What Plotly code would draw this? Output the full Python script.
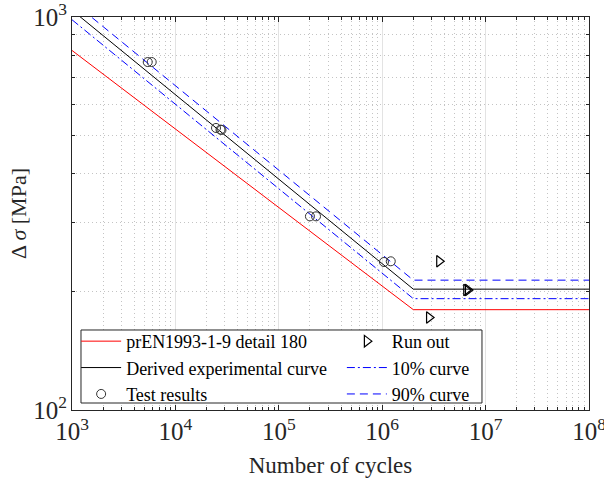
import plotly.graph_objects as go

# S-N curve knots (cycles, stress range MPa)
curve_n = [1e3, 2e6, 1e8]
en_detail180 = [822, 180, 180]
derived_curve = [1041, 203, 203]
curve_10 = [984, 192, 192]
curve_90 = [1097, 214, 214]

# Test results
test_n = [5.4e3, 5.9e3, 2.47e4, 2.73e4, 2.79e4, 2.0e5, 2.29e5, 1.04e6, 1.21e6]
test_s = [768, 768, 522, 517, 516, 311, 311, 238, 239]

# Run outs
run_n = [3.56e6, 6.5e6, 6.75e6, 2.84e6]
run_s = [239, 202, 202, 172]

FONT = "Liberation Serif"
LEG_FONT = dict(family=FONT, size=18, color="#000000")

fig = go.Figure()
fig.add_trace(go.Scatter(x=curve_n, y=en_detail180, mode="lines",
                         line=dict(color="#FF0000", width=1),
                         name="prEN1993-1-9 detail 180", legend="legend", legendrank=1))
fig.add_trace(go.Scatter(x=curve_n, y=derived_curve, mode="lines",
                         line=dict(color="#000000", width=1),
                         name="Derived experimental curve", legend="legend", legendrank=2))
fig.add_trace(go.Scatter(x=curve_n, y=curve_10, mode="lines",
                         line=dict(color="#0000FF", width=1, dash="8px,3px,2px,3px"),
                         name="10% curve", legend="legend2", legendrank=2))
fig.add_trace(go.Scatter(x=curve_n, y=curve_90, mode="lines",
                         line=dict(color="#0000FF", width=1, dash="8px,5px"),
                         name="90% curve", legend="legend2", legendrank=3))
fig.add_trace(go.Scatter(x=test_n, y=test_s, mode="markers",
                         marker=dict(symbol="circle-open", size=9, color="#333333",
                                     line=dict(width=1)),
                         name="Test results", legend="legend", legendrank=3))
fig.add_trace(go.Scatter(x=run_n, y=run_s, mode="markers",
                         marker=dict(symbol="triangle-right-open", size=10, color="#000000",
                                     line=dict(width=1.2)),
                         name="Run out", legend="legend2", legendrank=1))

axis_common = dict(
    type="log", dtick=1, exponentformat="power", showexponent="all",
    showline=True, linecolor="#262626", linewidth=1, mirror="allticks",
    ticks="inside", ticklen=5, tickcolor="#262626",
    showgrid=True, gridcolor="#E3E3E3", gridwidth=1,
    tickfont=dict(family=FONT, size=20, color="#262626"),
    ticklabeloverflow="allow",
    zeroline=False,
    minor=dict(dtick="D1", ticks="inside", ticklen=3, tickcolor="#262626",
               showgrid=True, gridcolor="#C4C4C4", griddash="1px,3px", gridwidth=1),
)

fig.update_xaxes(range=[3, 8],
                 title=dict(text="Number of cycles", font=dict(family=FONT, size=23, color="#262626"),
                            standoff=12),
                 **axis_common)
fig.update_yaxes(range=[2, 3],
                 title=dict(text="Δ <i>σ</i> [MPa]", font=dict(family=FONT, size=22, color="#262626"),
                            standoff=0),
                 **axis_common)

# legend frame (paper coords)
fig.add_shape(type="rect", xref="paper", yref="paper",
              x0=0.0174, x1=0.793, y0=0.0178, y1=0.2036,
              fillcolor="white", line=dict(color="#262626", width=1), layer="above")

leg_common = dict(orientation="v", yanchor="middle", y=0.107, xanchor="left",
                  bgcolor="rgba(0,0,0,0)", borderwidth=0, font=LEG_FONT,
                  itemwidth=40, tracegroupgap=0, traceorder="normal")

fig.update_layout(
    width=604, height=483,
    margin=dict(l=72, r=15, t=17, b=73, autoexpand=False),
    paper_bgcolor="white", plot_bgcolor="white",
    font=dict(family=FONT, color="#000000"),
    legend=dict(x=0.008, **leg_common),
    legend2=dict(x=0.522, **leg_common),
    showlegend=True,
)

fig.write_html("out.html")
